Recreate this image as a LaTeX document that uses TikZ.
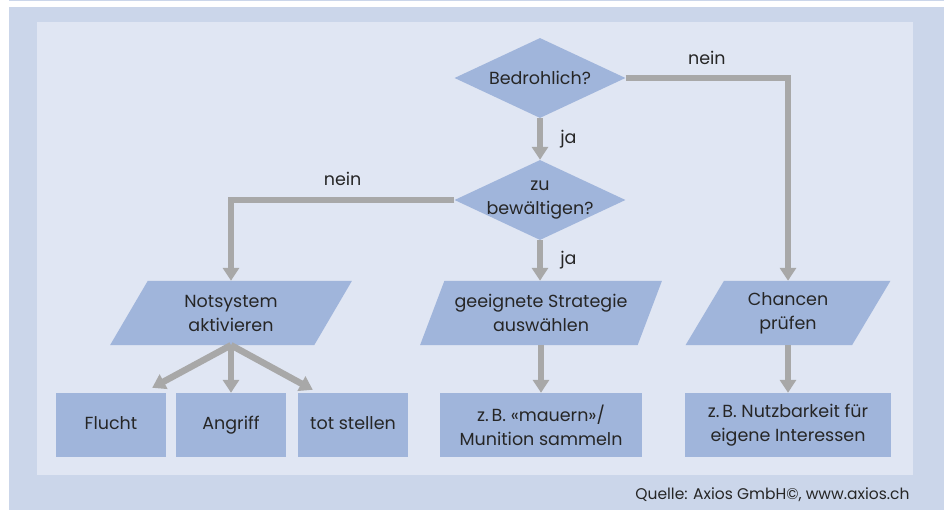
\documentclass[tikz,border=0pt]{standalone}
\usepackage{fontspec}
\setmainfont{Poppins}
\usetikzlibrary{shapes.geometric,arrows.meta}
\definecolor{panelout}{RGB}{203,214,234}
\definecolor{panelin}{RGB}{224,230,243}
\definecolor{boxfill}{RGB}{160,181,219}
\definecolor{flowgray}{RGB}{168,168,168}
\definecolor{ink}{RGB}{38,38,38}
\begin{document}
\begin{tikzpicture}[x=1pt,y=-1pt,line join=miter]
  \tikzset{every node/.style={text=ink,font=\fontsize{17.5}{24}\selectfont},
    decision/.style={diamond,fill=boxfill,aspect=2.14,minimum width=171pt,minimum height=80pt,inner sep=0pt},
    io/.style={trapezium,trapezium left angle=60,trapezium right angle=120,trapezium stretches=true,
      fill=boxfill,minimum width=242pt,minimum height=64pt,inner sep=0pt,align=center},
    result/.style={rectangle,fill=boxfill,minimum height=64pt,inner sep=0pt,align=center},
    oneline/.style={text height=12.5pt,text depth=4pt},
    answer/.style={inner sep=0pt},
    flow/.style={draw=flowgray,line width=6.5pt,-{Triangle[width=16pt,length=13pt]}}}
  % panels
  \useasboundingbox (0,0) rectangle (944,510);
  \fill[panelout] (9,0) rectangle (944,1.5);
  \fill[panelout] (9,7) rectangle (944,510);
  \fill[panelin] (37,22) rectangle (913,475);
  % decisions and steps
  \node[decision,label={[align=center]center:Bedrohlich?}] (bed) at (540,78) {};
  \node[decision,label={[align=center]center:zu\\bewältigen?}] (zu) at (540,200) {};
  \node[io] (not) at (231,313) {Notsystem\\aktivieren};
  \node[io] (strat) at (541,313) {geeignete Strategie\\auswählen};
  \node[io,minimum width=205pt] (ch) at (788,313) {Chancen\\prüfen};
  \node[result,oneline,minimum width=110pt] (flucht) at (111,425) {Flucht};
  \node[result,oneline,minimum width=110pt] (angriff) at (231,425) {Angriff};
  \node[result,oneline,minimum width=110pt] (tot) at (353,425) {tot stellen};
  \node[result,minimum width=202pt] (mauern) at (541,425) {z.\,B. «mauern»/\\Munition sammeln};
  \node[result,minimum width=206pt] (nutz) at (788,425) {z.\,B. Nutzbarkeit für\\eigene Interessen};
  % connectors
  \draw[flow] (bed.south) -- node[answer,right=17pt]{ja} (zu.north);
  \draw[flow] (bed.east) -| node[answer,pos=0.25,above=10pt]{nein} (ch.north -| ch.center);
  \draw[flow] (zu.west) -| node[answer,pos=0.25,above=11pt]{nein} (not.north -| not.center);
  \draw[flow] (zu.south) -- node[answer,right=17pt]{ja} (zu.south |- strat.north);
  \draw[flow] (not.south -| not.center) -- ([xshift=-14pt,yshift=5pt]flucht.north east);
  \draw[flow] (not.south -| not.center) -- (angriff.north);
  \draw[flow] (not.south -| not.center) -- ([xshift=15pt,yshift=3pt]tot.north west);
  \draw[flow] (strat.south -| strat.center) -- (mauern.north);
  \draw[flow] (ch.south -| ch.center) -- (nutz.north);
  \node[anchor=east,font=\fontsize{15.5}{18}\selectfont] (quelle) at (913,495) {Quelle: Axios GmbH©, www.axios.ch};
\end{tikzpicture}
\end{document}
